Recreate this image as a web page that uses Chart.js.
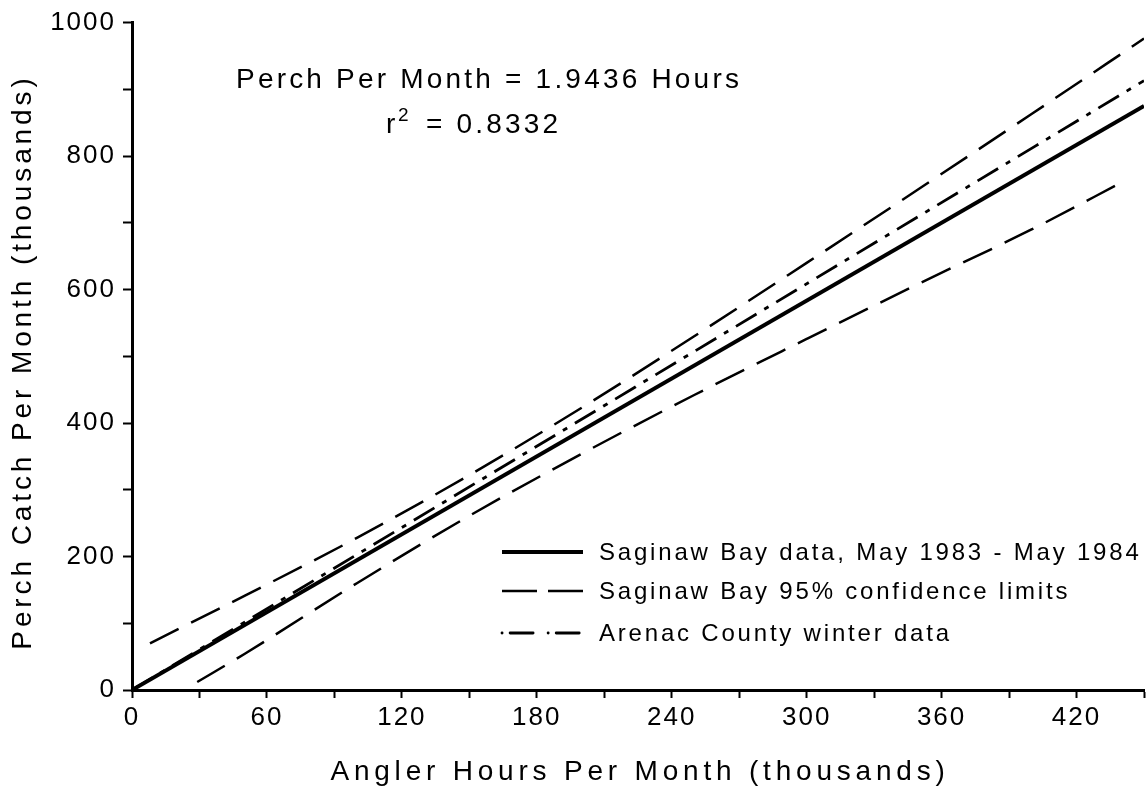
<!DOCTYPE html>
<html>
<head>
<meta charset="utf-8">
<script src="https://cdn.jsdelivr.net/npm/chart.js@4.4.1/dist/chart.umd.min.js"></script>
<style>
  html, body { margin: 0; padding: 0; background: #fff; }
  #wrap { width: 1148px; height: 789px; position: relative; }
</style>
</head>
<body>
<div id="wrap"><canvas id="c"></canvas></div>
<script>
// values (thousands)
const solidX = [0, 450];
const solidY = [0, 875];
const arenacX = [0, 450];
const arenacY = [0, 913];
const upperX = [8, 50, 100, 150, 200, 250, 300, 350, 400, 450];
const upperY = [70, 141, 228, 322, 423, 530, 640, 751, 863, 976];
const lowerX = [29, 50, 100, 150, 200, 250, 300, 350, 400, 442];
const lowerY = [12, 54, 160, 261, 354, 442, 526, 609, 690, 764];

const xMax = 450, yMax = 1000;
const xTitle = 'Angler Hours Per Month (thousands)';
const yTitle = 'Perch Catch Per Month (thousands)';
const legendLabels = ['Saginaw Bay data, May 1983 - May 1984', 'Saginaw Bay 95% confidence limits', 'Arenac County winter data'];
const eqText = 'Perch Per Month = 1.9436 Hours';
const r2Text = '0.8332';

const FONT = "'Liberation Sans', Arial, sans-serif";
const pts = (xs, ys) => xs.map((x, i) => ({ x, y: ys[i] }));

const styles = {
  solid: { w: 4, dash: [] },
  dashed: { w: 2.5, dash: [32, 14] },
  dashdot: { w: 2.8, dash: [24, 9, 5, 9] }
};

const spacing = {
  id: 'spacing',
  beforeUpdate(chart) { chart.ctx.letterSpacing = '2px'; },
  beforeDraw(chart) { chart.ctx.letterSpacing = '2px'; }
};

const annotate = {
  id: 'annotate',
  afterDraw(chart) {
    const ctx = chart.ctx, ca = chart.chartArea;
    ctx.save();
    ctx.fillStyle = '#000';
    ctx.textBaseline = 'alphabetic';

    // axis titles
    ctx.font = `28px ${FONT}`;
    ctx.letterSpacing = '4.8px';
    ctx.textAlign = 'center';
    ctx.fillText(xTitle, (ca.left + ca.right) / 2 + 2, 780);
    ctx.save();
    ctx.letterSpacing = '3.9px';
    ctx.translate(31, 362);
    ctx.rotate(-Math.PI / 2);
    ctx.fillText(yTitle, 0, 0);
    ctx.restore();

    // equation
    ctx.letterSpacing = '3.2px';
    ctx.font = `28px ${FONT}`;
    ctx.textAlign = 'left';
    ctx.fillText(eqText, 236, 88);
    ctx.fillText('r', 386, 133);
    ctx.font = `19px ${FONT}`;
    ctx.fillText('2', 398, 121);
    ctx.font = `28px ${FONT}`;
    ctx.fillText('= ' + r2Text, 426, 133);

    // legend
    const rows = [552, 591, 633];
    rows.forEach((y, i) => {
      ctx.beginPath();
      ctx.lineWidth = i === 0 ? 4 : i === 1 ? 2.5 : 2.8;
      ctx.strokeStyle = '#000';
      ctx.setLineDash(i === 1 ? [35, 11] : i === 2 ? [0.1, 8, 23, 15] : []);
      ctx.lineCap = i === 2 ? 'round' : 'butt';
      ctx.moveTo(502, y);
      ctx.lineTo(583, y);
      ctx.stroke();
      ctx.setLineDash([]);
      ctx.font = `24px ${FONT}`;
      ctx.letterSpacing = '2.8px';
      ctx.textBaseline = 'middle';
      ctx.textAlign = 'left';
      ctx.fillText(legendLabels[i], 599, y + 1);
    });
    ctx.restore();
  }
};

const lineDs = (data, s) => ({
  data, showLine: true, pointRadius: 0, borderColor: '#000', borderWidth: s.w,
  borderDash: s.dash, borderCapStyle: 'butt', fill: false, tension: 0.4, cubicInterpolationMode: 'monotone'
});

new Chart(document.getElementById('c'), {
  type: 'scatter',
  data: {
    datasets: [
      lineDs(pts(upperX, upperY), styles.dashed),
      lineDs(pts(lowerX, lowerY), styles.dashed),
      lineDs(pts(arenacX, arenacY), styles.dashdot),
      lineDs(pts(solidX, solidY), styles.solid)
    ]
  },
  options: {
    responsive: true, maintainAspectRatio: false, animation: false,
    layout: { padding: { top: 20, right: 4, left: 0, bottom: 0 } },
    plugins: { legend: { display: false }, tooltip: { enabled: false } },
    scales: {
      x: {
        type: 'linear', min: 0, max: xMax,
        afterFit: s => { s.height = 99; },
        border: { color: '#000', width: 3 },
        grid: { drawOnChartArea: false, drawTicks: true, tickLength: 8, tickWidth: 2, tickColor: '#000' },
        ticks: { stepSize: 30, color: '#000', padding: 4, maxRotation: 0, autoSkip: false,
          font: { family: FONT, size: 26 },
          callback: v => (v % 60 === 0 ? String(v) : '') }
      },
      y: {
        type: 'linear', min: 0, max: yMax,
        afterFit: s => { s.width = 132; },
        border: { color: '#000', width: 3 },
        grid: { drawOnChartArea: false, drawTicks: true, tickLength: 9, tickWidth: 2, tickColor: '#000' },
        ticks: { stepSize: 100, color: '#000', padding: 7, autoSkip: false,
          font: { family: FONT, size: 26 },
          callback: v => (v % 200 === 0 ? String(v) : '') }
      }
    }
  },
  plugins: [spacing, annotate]
});
</script>
</body>
</html>
